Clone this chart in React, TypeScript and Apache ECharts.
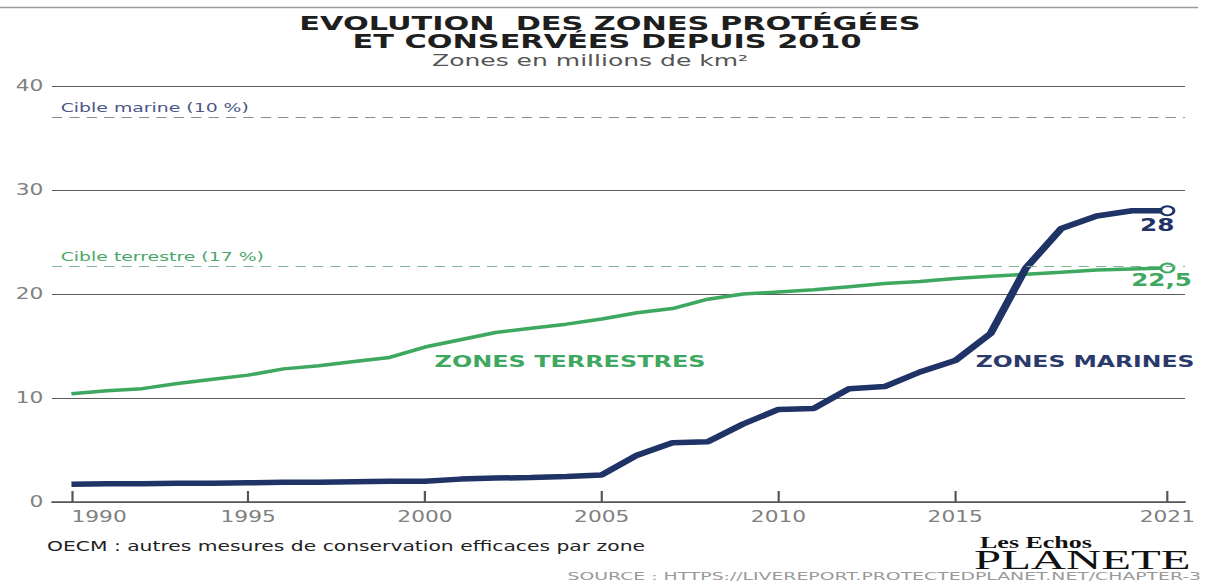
import React, { useEffect, useRef } from "react";
import * as echarts from "echarts";

// ---- data ----
const years = [
  1990, 1991, 1992, 1993, 1994, 1995, 1996, 1997, 1998, 1999, 2000, 2001, 2002, 2003, 2004, 2005,
  2006, 2007, 2008, 2009, 2010, 2011, 2012, 2013, 2014, 2015, 2016, 2017, 2018, 2019, 2020, 2021,
];
const terrestrial = [
  10.4, 10.7, 10.9, 11.4, 11.8, 12.2, 12.8, 13.1, 13.5, 13.9, 14.9, 15.6, 16.3, 16.7, 17.1, 17.6,
  18.2, 18.6, 19.5, 20.0, 20.2, 20.4, 20.7, 21.0, 21.2, 21.5, 21.7, 21.9, 22.1, 22.3, 22.4, 22.5,
];
const marine = [
  1.7, 1.75, 1.75, 1.8, 1.8, 1.85, 1.9, 1.9, 1.95, 2.0, 2.0, 2.2, 2.3, 2.35, 2.45, 2.6,
  4.5, 5.7, 5.8, 7.5, 8.9, 9.0, 10.9, 11.1, 12.5, 13.6, 16.2, 22.5, 26.3, 27.5, 28.0, 28.0,
];
const xTickLabels = [1990, 1995, 2000, 2005, 2010, 2015, 2021];
const yTickValues = [0, 10, 20, 30, 40];
const marineTarget = 37;
const terrestrialTarget = 22.7;
const marineTargetLabel = "Cible marine (10 %)";
const terrestrialTargetLabel = "Cible terrestre (17 %)";
const terrestrialEndLabel = "22,5";
const marineEndLabel = "28";

// ---- layout (the reference is horizontally stretched) ----
const S = 1.45;
const W = Math.round(1205 / S);
const H = 584;
const X = (px: number) => px / S;

const GREEN = "#3fa860";
const NAVY = "#1f3366";
const FONT = '"DejaVu Sans", "Open Sans", sans-serif';
const SERIF = '"Liberation Serif", "DejaVu Serif", serif';

export default function App() {
  const ref = useRef<HTMLDivElement>(null);

  useEffect(() => {
    if (!ref.current) return;
    const chart = echarts.init(ref.current, undefined, { renderer: "svg" });
    const last = years.length - 1;

    const endItem = (v: number, color: string, text: string, offset: number[]) => ({
      symbol: "circle",
      symbolSize: 9,
      itemStyle: { color: "#ffffff", borderColor: color, borderWidth: 2 },
      label: {
        show: true,
        position: "bottom",
        distance: 0,
        offset,
        formatter: text,
        color,
        fontSize: 17,
        fontWeight: "bold",
        fontFamily: FONT,
      },
      value: [years[last], v],
    });

    const option: any = {
      animation: false,
      backgroundColor: "#ffffff",
      grid: { left: X(52), right: W - X(1185), top: 86, bottom: H - 502, containLabel: false },
      xAxis: {
        type: "value",
        min: 1989.45,
        max: 2021.5,
        axisLine: { show: true, lineStyle: { color: "#555", width: 1.5 } },
        axisTick: {
          show: true,
          inside: true,
          length: 11,
          lineStyle: { color: "#555", width: 1.5 },
          customValues: xTickLabels,
        },
        axisLabel: {
          customValues: xTickLabels,
          formatter: (v: number) => String(v),
          color: "#808080",
          fontSize: 15,
          fontFamily: FONT,
          margin: 7,
          alignMinLabel: "left",
        },
        splitLine: { show: false },
      },
      yAxis: {
        type: "value",
        min: 0,
        max: 40,
        interval: 10,
        axisLine: { show: false },
        axisTick: { show: false },
        axisLabel: {
          color: "#808080",
          fontSize: 15,
          fontFamily: FONT,
          margin: 6,
          customValues: yTickValues,
        },
        splitLine: { show: true, lineStyle: { color: "#5c5c5c", width: 1 } },
      },
      series: [
        {
          name: "Zones terrestres",
          type: "line",
          symbol: "none",
          showSymbol: true,
          lineStyle: { color: GREEN, width: 3.5 },
          itemStyle: { color: GREEN },
          z: 3,
          data: years.map((y, i) =>
            i === last
              ? endItem(terrestrial[i], GREEN, terrestrialEndLabel, [-4, -2])
              : [y, terrestrial[i]]
          ),
          markLine: {
            silent: true,
            symbol: ["none", "none"],
            data: [
              {
                yAxis: terrestrialTarget,
                lineStyle: { color: "#7fb595", type: [7, 5], width: 1 },
                label: {
                  show: true,
                  position: "insideStartTop",
                  distance: [6, 3],
                  formatter: terrestrialTargetLabel,
                  color: "#4aa86a",
                  fontSize: 13,
                  fontFamily: FONT,
                },
              },
            ],
          },
        },
        {
          name: "Zones marines",
          type: "line",
          symbol: "none",
          showSymbol: true,
          lineStyle: { color: NAVY, width: 5.5 },
          itemStyle: { color: NAVY },
          z: 4,
          data: years.map((y, i) =>
            i === last ? endItem(marine[i], NAVY, marineEndLabel, [-7, 0]) : [y, marine[i]]
          ),
          markLine: {
            silent: true,
            symbol: ["none", "none"],
            data: [
              {
                yAxis: marineTarget,
                lineStyle: { color: "#8c8c8c", type: [7, 5], width: 1 },
                label: {
                  show: true,
                  position: "insideStartTop",
                  distance: [6, 3],
                  formatter: marineTargetLabel,
                  color: "#4a5788",
                  fontSize: 13,
                  fontFamily: FONT,
                },
              },
            ],
          },
        },
      ],
      graphic: [
        {
          type: "line",
          shape: { x1: 0, y1: 7.5, x2: X(1198), y2: 7.5 },
          style: { stroke: "#9a9a9a", lineWidth: 1.5 },
          silent: true,
        },
        {
          type: "text",
          x: X(610),
          y: 24,
          scaleX: 1.1,
          style: {
            text: "EVOLUTION  DES ZONES PROTÉGÉES",
            fontSize: 19,
            fontWeight: "bold",
            fontFamily: FONT,
            fill: "#1e1e1e",
            align: "center",
            verticalAlign: "middle",
          },
        },
        {
          type: "text",
          x: X(607),
          y: 42,
          scaleX: 1.1,
          style: {
            text: "ET CONSERVÉES DEPUIS 2010",
            fontSize: 19,
            fontWeight: "bold",
            fontFamily: FONT,
            fill: "#1e1e1e",
            align: "center",
            verticalAlign: "middle",
          },
        },
        {
          type: "text",
          x: X(590),
          y: 61,
          scaleX: 1.15,
          style: {
            text: "Zones en millions de km²",
            fontSize: 15,
            fontFamily: FONT,
            fill: "#555",
            align: "center",
            verticalAlign: "middle",
          },
        },
        {
          type: "text",
          x: X(570),
          y: 362,
          scaleX: 1.1,
          style: {
            text: "ZONES TERRESTRES",
            fontSize: 15,
            fontWeight: "bold",
            fontFamily: FONT,
            fill: GREEN,
            align: "center",
            verticalAlign: "middle",
          },
        },
        {
          type: "text",
          x: X(1085),
          y: 362,
          scaleX: 1.08,
          style: {
            text: "ZONES MARINES",
            fontSize: 15,
            fontWeight: "bold",
            fontFamily: FONT,
            fill: "#2b3a6b",
            align: "center",
            verticalAlign: "middle",
          },
        },
        {
          type: "text",
          x: X(47),
          y: 546,
          style: {
            text: "OECM : autres mesures de conservation efficaces par zone",
            fontSize: 14,
            fontFamily: FONT,
            fill: "#222",
            align: "left",
            verticalAlign: "middle",
          },
        },
        {
          type: "text",
          x: X(980),
          y: 543,
          scaleX: 1.12,
          style: {
            text: "Les Echos",
            fontSize: 16,
            fontWeight: "bold",
            fontFamily: SERIF,
            fill: "#111",
            align: "left",
            verticalAlign: "middle",
          },
        },
        {
          type: "text",
          x: X(974),
          y: 560,
          scaleX: 1.2,
          style: {
            text: "PLANETE",
            fontSize: 28,
            fontFamily: SERIF,
            fill: "#111",
            align: "left",
            verticalAlign: "middle",
          },
        },
        {
          type: "text",
          x: X(1201),
          y: 576,
          scaleX: 1.18,
          style: {
            text: "SOURCE : HTTPS://LIVEREPORT.PROTECTEDPLANET.NET/CHAPTER-3",
            fontSize: 11,
            fontFamily: FONT,
            fill: "#9a9a9a",
            align: "right",
            verticalAlign: "middle",
          },
        },
      ],
    };

    chart.setOption(option);
    return () => chart.dispose();
  }, []);

  return (
    <div
      style={{
        position: "fixed",
        left: 0,
        top: 0,
        width: 1205,
        height: H,
        overflow: "hidden",
        background: "#fff",
      }}
    >
      <div
        ref={ref}
        style={{
          width: W,
          height: H,
          transform: `scaleX(${1205 / W})`,
          transformOrigin: "0 0",
        }}
      />
    </div>
  );
}
